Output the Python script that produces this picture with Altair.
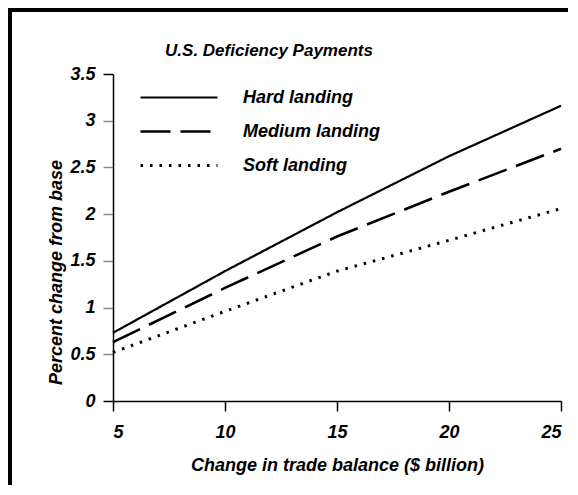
import altair as alt
import pandas as pd

trade_change = [5, 10, 15, 20, 25]
hard = [0.73, 1.39, 2.02, 2.62, 3.16]
medium = [0.63, 1.21, 1.76, 2.24, 2.70]
soft = [0.52, 0.96, 1.39, 1.72, 2.06]
series_names = ["Hard landing", "Medium landing", "Soft landing"]
chart_title = "U.S. Deficiency Payments"

rows = []
for name, vals in zip(series_names, [hard, medium, soft]):
    for x, v in zip(trade_change, vals):
        rows.append({"x": x, "v": v, "s": name})
df = pd.DataFrame(rows)

FONT = "Liberation Sans"
W, H = 448, 327
PAD = {"left": 105, "top": 66, "right": 9, "bottom": 86}

lines = alt.Chart(df).mark_line(color="black", strokeCap="butt").encode(
    x=alt.X("x:Q", scale=alt.Scale(domain=[5, 25], nice=False, zero=False),
            axis=alt.Axis(values=trade_change, format="d", tickSize=10, labelPadding=12,
                          title="Change in trade balance ($ billion)", titlePadding=15)),
    y=alt.Y("v:Q", scale=alt.Scale(domain=[0, 3.5], nice=False),
            axis=alt.Axis(values=[0, 0.5, 1, 1.5, 2, 2.5, 3, 3.5], format=".1~f", tickSize=10,
                          labelPadding=8,
                          tickColor=alt.condition("datum.value == 0 || datum.value == 3.5",
                                                  alt.value("black"), alt.value("#888888")),
                          title="Percent change from base", titleX=-48, titleY=198,
                          titleAnchor="middle")),
    strokeDash=alt.StrokeDash("s:N", scale=alt.Scale(domain=series_names,
                                                     range=[[1, 0], [30, 10], [2.5, 7]]),
                              legend=alt.Legend(title=None, orient="none", legendX=41.5, legendY=-1,
                                                symbolType="M-1.674,0H1.674", symbolSize=2116,
                                                symbolStrokeWidth=2.5, symbolStrokeColor="black",
                                                symbolFillColor="transparent",
                                                labelOffset=39.5, rowPadding=-1, padding=0,
                                                labelFont=FONT, labelFontSize=18,
                                                labelFontStyle="italic", labelFontWeight="bold")),
    strokeWidth=alt.StrokeWidth("s:N", scale=alt.Scale(domain=series_names, range=[2.2, 3, 2.5]),
                                legend=None),
)

title_mark = alt.Chart(pd.DataFrame({"t": [chart_title]})).mark_text(
    font=FONT, fontSize=17, fontStyle="italic", fontWeight="bold", color="black",
    align="center", baseline="alphabetic"
).encode(text="t:N", x=alt.value(156), y=alt.value(-18))

frame_data = pd.DataFrame({"a": [0]})
border_top = alt.Chart(frame_data).mark_rect(color="black", strokeWidth=0).encode(
    x=alt.value(-PAD["left"]), x2=alt.value(W + PAD["right"] - 2),
    y=alt.value(-PAD["top"]), y2=alt.value(4 - PAD["top"])
)
border_left = alt.Chart(frame_data).mark_rect(color="black", strokeWidth=0).encode(
    x=alt.value(-PAD["left"]), x2=alt.value(4 - PAD["left"]),
    y=alt.value(-PAD["top"]), y2=alt.value(H + PAD["bottom"] - 2)
)

chart = alt.layer(border_top, border_left, title_mark, lines).properties(
    width=W, height=H,
    autosize="none",
    padding=PAD,
).configure_view(stroke=None).configure_axis(
    grid=False, domainColor="black", domainWidth=1.5, tickColor="black", tickWidth=1.5,
    labelFont=FONT, labelFontSize=18, labelFontStyle="italic", labelFontWeight="bold",
    labelColor="black", titleFont=FONT, titleFontSize=18, titleFontStyle="italic",
    titleFontWeight="bold", titleColor="black"
).configure_legend(labelColor="black")

chart.save("out.html", embed_options={"renderer": "svg", "actions": False})
